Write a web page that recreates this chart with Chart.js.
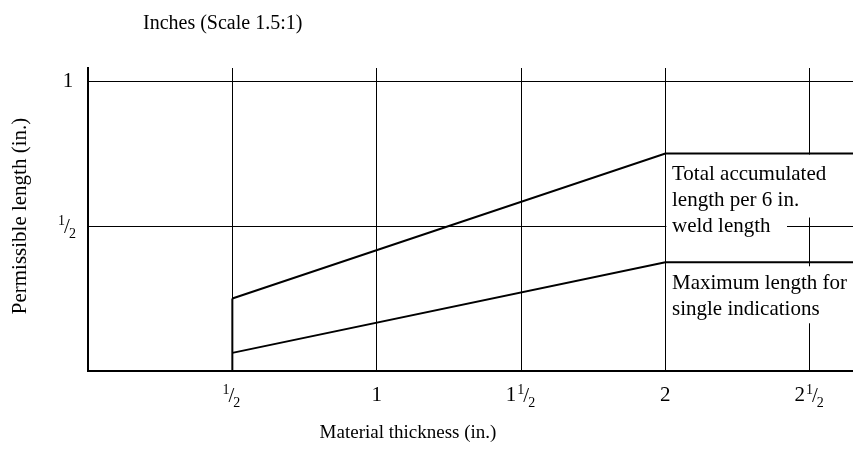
<!DOCTYPE html>
<html>
<head>
<meta charset="utf-8">
<script src="https://cdn.jsdelivr.net/npm/chart.js@4"></script>
<style>
  html, body { margin: 0; padding: 0; background: #fff; }
  #wrap { width: 853px; height: 461px; position: relative; }
</style>
</head>
<body>
<div id="wrap"><canvas id="myChart"></canvas></div>
<script>
// Datos
const xTicks = [0.5, 1, 1.5, 2, 2.5];
const xTickLabels = [['', '1', '2'], ['1', '', ''], ['1', '1', '2'], ['2', '', ''], ['2', '1', '2']];
const yTicks = [0, 0.5, 1];
const yTickLabels = [null, ['', '1', '2'], ['1', '', '']];

const thickness = [0.5, 2, 2.65];
const totalLength = [0.25, 0.75, 0.75];
const maxLength = [0.0625, 0.375, 0.375];
const edgeX = [0.5, 0.5];
const edgeY = [0, 0.25];

const xMax = 2.65;
const yMax = 1.045;

const serif = "'Liberation Serif', 'Times New Roman', serif";

function pts(xs, ys) {
    return xs.map((x, i) => ({ x: x, y: ys[i] }));
}

// dibuja "2 1/2" con superíndice y subíndice
function drawFrac(ctx, parts, cx, cy) {
    const big = '21px ' + serif, small = '14px ' + serif;
    ctx.font = big;
    const wWhole = parts[0] ? ctx.measureText(parts[0]).width : 0;
    const wSlash = parts[1] ? ctx.measureText('/').width : 0;
    ctx.font = small;
    const wNum = parts[1] ? ctx.measureText(parts[1]).width : 0;
    const wDen = parts[2] ? ctx.measureText(parts[2]).width : 0;
    const total = wWhole + wNum + wSlash + wDen;
    let x = cx - total / 2;
    ctx.textAlign = 'left';
    ctx.textBaseline = 'middle';
    if (parts[0]) { ctx.font = big; ctx.fillText(parts[0], x, cy); x += wWhole + 1; }
    if (parts[1]) {
        ctx.font = small; ctx.fillText(parts[1], x, cy - 5); x += wNum;
        ctx.font = big; ctx.fillText('/', x - 1, cy + 1); x += wSlash;
        ctx.font = small; ctx.fillText(parts[2], x - 2, cy + 8);
    }
}

const labelsPlugin = {
    id: 'labelsPlugin',
    beforeDatasetsDraw(chart) {
        const ctx = chart.ctx;
        const xs = chart.scales.x, ys = chart.scales.y;
        const x2 = xs.getPixelForValue(2) + 1;
        const right = xs.right;
        ctx.save();
        ctx.fillStyle = '#fff';
        ctx.fillRect(x2, ys.getPixelForValue(0.75) + 1, right - x2, 63);
        ctx.fillRect(x2, ys.getPixelForValue(0.5) - 8, 787 - x2, 18);
        ctx.fillRect(x2, ys.getPixelForValue(0.375) + 4, right - x2, 57);
        ctx.restore();
    },
    afterDatasetsDraw(chart) {
        const ctx = chart.ctx;
        const xs = chart.scales.x, ys = chart.scales.y;
        ctx.save();
        ctx.fillStyle = '#000';
        // etiquetas de los ejes
        xTicks.forEach((v, i) => drawFrac(ctx, xTickLabels[i], xs.getPixelForValue(v), 395));
        yTicks.forEach((v, i) => {
            if (yTickLabels[i]) drawFrac(ctx, yTickLabels[i], 68, ys.getPixelForValue(v));
        });
        // títulos
        ctx.textAlign = 'center';
        ctx.textBaseline = 'middle';
        ctx.font = '19px ' + serif;
        ctx.fillText('Material thickness (in.)', 408, 433);
        ctx.save();
        ctx.translate(20, 216);
        ctx.rotate(-Math.PI / 2);
        ctx.font = '21px ' + serif;
        ctx.fillText('Permissible length (in.)', 0, 0);
        ctx.restore();
        ctx.font = '20px ' + serif;
        ctx.textAlign = 'left';
        ctx.fillText('Inches (Scale 1.5:1)', 143, 24);
        // notas de las curvas
        const lx = 672;
        ctx.font = '21px ' + serif;
        ctx.fillText('Total accumulated', lx, 174);
        ctx.fillText('length per 6 in.', lx, 200);
        ctx.fillText('weld length', lx, 226);
        ctx.fillText('Maximum length for', lx, 283);
        ctx.fillText('single indications', lx, 309);
        ctx.restore();
    }
};

const data = {
    datasets: [
        { label: 'Total accumulated', data: pts(thickness, totalLength) },
        { label: 'Maximum length', data: pts(thickness, maxLength) },
        { label: 'edge', data: pts(edgeX, edgeY) }
    ].map(d => Object.assign(d, {
        borderColor: '#000',
        borderWidth: 2,
        pointRadius: 0,
        showLine: true,
        fill: false,
        tension: 0
    }))
};

const config = {
    type: 'scatter',
    data: data,
    options: {
        responsive: true,
        maintainAspectRatio: false,
        animation: false,
        layout: { padding: { left: 88, top: 68, right: 0, bottom: 90 } },
        plugins: { legend: { display: false }, tooltip: { enabled: false } },
        scales: {
            x: {
                type: 'linear',
                min: 0,
                max: xMax,
                afterBuildTicks: (s) => { s.ticks = xTicks.map(v => ({ value: v })); },
                ticks: { display: false },
                grid: { color: '#000', lineWidth: 1, drawTicks: false },
                border: { display: true, color: '#000', width: 2 }
            },
            y: {
                type: 'linear',
                min: 0,
                max: yMax,
                afterBuildTicks: (s) => { s.ticks = yTicks.map(v => ({ value: v })); },
                ticks: { display: false },
                grid: { color: '#000', lineWidth: 1, drawTicks: false },
                border: { display: true, color: '#000', width: 2 }
            }
        }
    },
    plugins: [labelsPlugin]
};

var myChart = new Chart(document.getElementById('myChart'), config);
</script>
</body>
</html>
